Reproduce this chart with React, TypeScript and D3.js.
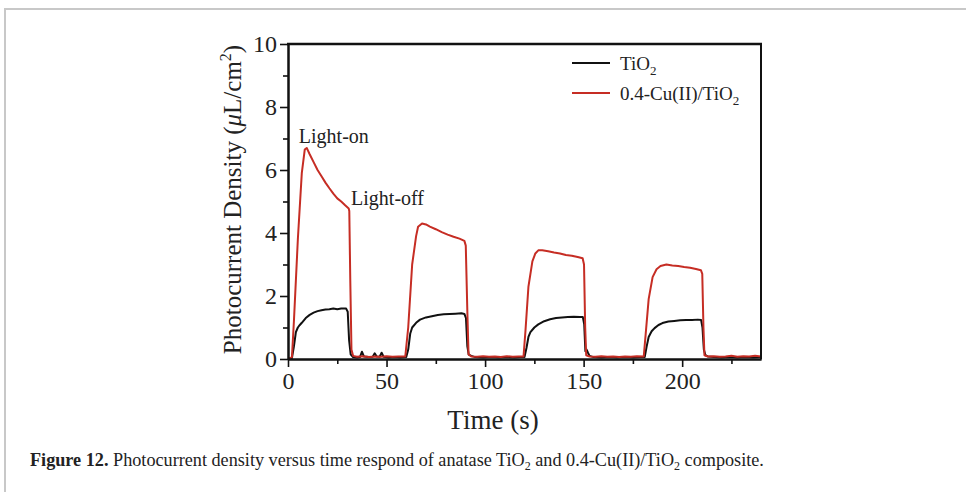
import React, { useEffect, useRef } from "react";
import * as d3 from "d3";

// time (s) / photocurrent density (uA/cm2)
const tio2: [number, number][] = [
  [0, 0.0], [1, 0.01], [2, 0.03], [3, 0.4], [4, 0.85], [5, 1.0], [6, 1.08], [7, 1.15], [9, 1.3], [11, 1.4],
  [13, 1.47], [15, 1.52], [17, 1.55], [19, 1.57], [21, 1.58], [23, 1.6], [25, 1.58], [27, 1.6], [29.5, 1.6],
  [30.3, 1.5], [31, 0.6], [31.8, 0.15], [33, 0.06], [35, 0.05], [36.5, 0.06], [37.5, 0.23], [38.5, 0.08],
  [41, 0.06], [43, 0.07], [44, 0.18], [45, 0.08], [46.5, 0.07], [47.5, 0.2], [48.5, 0.07], [51, 0.05],
  [54, 0.06], [57, 0.05], [60, 0.06], [61, 0.3], [62, 0.8], [63, 1.0], [65, 1.15], [67, 1.25], [70, 1.32],
  [73, 1.36], [76, 1.4], [79, 1.42], [82, 1.43], [85, 1.44], [88, 1.45], [89.5, 1.43], [90.3, 1.3],
  [91, 0.4], [91.7, 0.14], [93, 0.1], [95, 0.06], [99, 0.05], [103, 0.06], [107, 0.05], [111, 0.06],
  [115, 0.05], [118, 0.06], [120, 0.06], [121, 0.35], [122, 0.7], [123, 0.85], [125, 1.0], [127, 1.1],
  [130, 1.2], [133, 1.26], [136, 1.3], [139, 1.32], [142, 1.33], [145, 1.34], [148, 1.33], [149.6, 1.33],
  [150.3, 1.1], [150.9, 0.25], [151.5, 0.3], [152.2, 0.2], [153, 0.1], [155, 0.06], [159, 0.05],
  [163, 0.06], [167, 0.05], [171, 0.06], [175, 0.05], [179, 0.06], [181, 0.06], [182, 0.4], [183, 0.7],
  [184.5, 0.88], [186, 0.98], [188, 1.08], [190, 1.14], [193, 1.19], [196, 1.21], [199, 1.23], [202, 1.24],
  [205, 1.24], [208, 1.25], [209.6, 1.24], [210.3, 1.0], [211, 0.3], [211.8, 0.12], [213, 0.08],
  [216, 0.06], [220, 0.05], [224, 0.06], [228, 0.05], [232, 0.06], [236, 0.05], [240, 0.06],
];

const cuTio2: [number, number][] = [
  [0, 0.02], [1, 0.03], [2, 0.06], [3, 1.2], [5, 3.8], [7, 5.9], [8.5, 6.65], [9.5, 6.7], [11, 6.5],
  [13, 6.25], [15, 6.0], [17, 5.8], [19, 5.6], [21, 5.42], [23, 5.25], [25, 5.1], [27, 5.0], [29, 4.88],
  [30.8, 4.78], [31.1, 4.7], [31.6, 2.5], [32.2, 0.3], [33, 0.1], [35, 0.07], [38, 0.09], [41, 0.06],
  [44, 0.08], [47, 0.07], [50, 0.09], [53, 0.07], [56, 0.08], [59.5, 0.08], [61, 1.0], [63, 3.0],
  [65, 3.9], [66, 4.2], [68, 4.3], [70, 4.27], [72, 4.2], [75, 4.12], [78, 4.03], [81, 3.95], [84, 3.88],
  [87, 3.82], [89.5, 3.75], [90.2, 3.6], [91, 1.5], [91.6, 0.15], [93, 0.08], [96, 0.07], [99, 0.09],
  [102, 0.07], [105, 0.08], [108, 0.06], [111, 0.09], [114, 0.07], [117, 0.08], [119.5, 0.08],
  [120.5, 0.9], [122, 2.3], [124, 3.1], [125.5, 3.35], [127, 3.45], [129, 3.45], [132, 3.42], [135, 3.38],
  [138, 3.35], [141, 3.3], [144, 3.28], [147, 3.24], [149.5, 3.2], [150.2, 3.0], [150.8, 1.0],
  [151.3, 0.12], [153, 0.08], [156, 0.07], [159, 0.09], [162, 0.07], [165, 0.08], [168, 0.06],
  [171, 0.08], [174, 0.07], [177, 0.09], [180.5, 0.08], [181.5, 0.8], [183, 1.9], [185, 2.6],
  [187, 2.85], [189, 2.95], [192, 3.0], [195, 2.97], [198, 2.95], [201, 2.92], [204, 2.9], [207, 2.86],
  [209.5, 2.82], [210.2, 2.7], [210.8, 1.0], [211.3, 0.12], [213, 0.08], [216, 0.09], [219, 0.07],
  [222, 0.08], [225, 0.1], [228, 0.07], [231, 0.09], [234, 0.08], [237, 0.1], [240, 0.08],
];

const xMajor = [0, 50, 100, 150, 200];
const xMinor = [25, 75, 125, 175, 225];
const yMajor = [0, 2, 4, 6, 8, 10];
const yMinor = [1, 3, 5, 7, 9];

const BLACK = "#111";
const RED = "#c62d24";
const SERIF = "'Liberation Serif', 'Times New Roman', serif";

export default function App() {
  const ref = useRef<SVGSVGElement>(null);

  useEffect(() => {
    document.body.style.margin = "0";
    const svg = d3.select(ref.current);
    svg.selectAll("*").remove();

    // page frame (grey)
    svg.append("line").attr("x1", 4).attr("x2", 966).attr("y1", 9).attr("y2", 9)
      .attr("stroke", "#c8c8c8").attr("stroke-width", 2);
    svg.append("line").attr("x1", 5).attr("x2", 5).attr("y1", 9).attr("y2", 492)
      .attr("stroke", "#c8c8c8").attr("stroke-width", 2);

    const m = { left: 288, top: 44, right: 761, bottom: 359 };
    const w = m.right - m.left;
    const h = m.bottom - m.top;

    const x = d3.scaleLinear().domain([0, 240]).range([0, w]);
    const y = d3.scaleLinear().domain([0, 10]).range([h, 0]);

    const g = svg.append("g").attr("transform", `translate(${m.left},${m.top})`);

    const line = d3.line<[number, number]>()
      .x((d) => x(d[0]))
      .y((d) => y(d[1]));

    g.append("path").datum(tio2).attr("fill", "none").attr("stroke", BLACK)
      .attr("stroke-width", 2).attr("stroke-linejoin", "round").attr("d", line);
    g.append("path").datum(cuTio2).attr("fill", "none").attr("stroke", RED)
      .attr("stroke-width", 2).attr("stroke-linejoin", "round").attr("d", line);

    // axes
    const styleAxis = (sel: any) => {
      sel.select(".domain").attr("stroke", BLACK).attr("stroke-width", 2);
      sel.selectAll(".tick line").attr("stroke", BLACK).attr("stroke-width", 1.6);
      sel.selectAll(".tick text").attr("font-family", SERIF).attr("font-size", 24).attr("fill", "#222");
    };

    const xa = g.append("g").attr("transform", `translate(0,${h})`)
      .call(d3.axisBottom(x).tickValues(xMajor).tickSize(8).tickPadding(5).tickSizeOuter(0));
    styleAxis(xa);
    const xm = g.append("g").attr("transform", `translate(0,${h})`)
      .call(d3.axisBottom(x).tickValues(xMinor).tickSize(5).tickFormat(() => "").tickSizeOuter(0));
    styleAxis(xm);

    const ya = g.append("g")
      .call(d3.axisLeft(y).tickValues(yMajor).tickSize(8).tickPadding(3).tickSizeOuter(0));
    styleAxis(ya);
    const ym = g.append("g")
      .call(d3.axisLeft(y).tickValues(yMinor).tickSize(5).tickFormat(() => "").tickSizeOuter(0));
    styleAxis(ym);

    // top and right border
    g.append("line").attr("x1", -1).attr("x2", w + 1).attr("y1", 0).attr("y2", 0)
      .attr("stroke", BLACK).attr("stroke-width", 2.5);
    g.append("line").attr("x1", w).attr("x2", w).attr("y1", 0).attr("y2", h)
      .attr("stroke", BLACK).attr("stroke-width", 2);

    // axis titles
    g.append("text").attr("x", 205).attr("y", h + 70).attr("text-anchor", "middle")
      .attr("font-family", SERIF).attr("font-size", 27).attr("fill", "#222").text("Time (s)");

    const yt = g.append("text").attr("transform", `translate(-47,${h / 2 - 2}) rotate(-90)`)
      .attr("text-anchor", "middle").attr("font-family", SERIF).attr("font-size", 25).attr("fill", "#222");
    yt.append("tspan").text("Photocurrent Density (");
    yt.append("tspan").attr("font-style", "italic").text("\u03bc");
    yt.append("tspan").text("L/cm");
    yt.append("tspan").attr("font-size", 16).attr("dy", -10).text("2");
    yt.append("tspan").attr("dy", 10).text(")");

    // annotations
    g.append("text").attr("x", x(5.5)).attr("y", y(6.85)).attr("font-family", SERIF)
      .attr("font-size", 20).attr("fill", "#222").text("Light-on");
    g.append("text").attr("x", x(32)).attr("y", y(4.9)).attr("font-family", SERIF)
      .attr("font-size", 20).attr("fill", "#222").text("Light-off");

    // legend
    const legend = [
      { name: "TiO", color: BLACK },
      { name: "0.4-Cu(II)/TiO", color: RED },
    ];
    legend.forEach((d, i) => {
      const ly = 19 + i * 30;
      g.append("line").attr("x1", 284).attr("x2", 322).attr("y1", ly).attr("y2", ly)
        .attr("stroke", d.color).attr("stroke-width", 2);
      const t = g.append("text").attr("x", 332).attr("y", ly + 7).attr("font-family", SERIF)
        .attr("font-size", 19).attr("fill", "#222");
      t.append("tspan").text(d.name);
      t.append("tspan").attr("font-size", 13).attr("dy", 5).text("2");
    });

    // caption
    const cap = svg.append("text").attr("x", 30).attr("y", 466).attr("font-family", SERIF)
      .attr("font-size", 18.2).attr("fill", "#222");
    cap.append("tspan").attr("font-weight", "bold").text("Figure 12.");
    cap.append("tspan").text(" Photocurrent density versus time respond of anatase TiO");
    cap.append("tspan").attr("font-size", 12).attr("dy", 4).text("2");
    cap.append("tspan").attr("dy", -4).text(" and 0.4-Cu(II)/TiO");
    cap.append("tspan").attr("font-size", 12).attr("dy", 4).text("2");
    cap.append("tspan").attr("dy", -4).text(" composite.");
  }, []);

  return <svg ref={ref} width={966} height={492} style={{ display: "block", background: "#fff" }} />;
}
